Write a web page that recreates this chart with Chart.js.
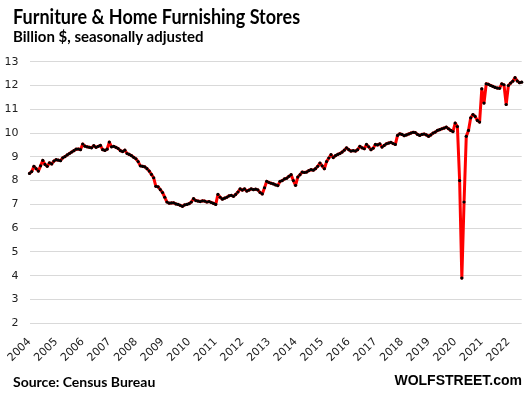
<!DOCTYPE html>
<html>
<head>
<meta charset="utf-8">
<script src="https://cdn.jsdelivr.net/npm/chart.js"></script>
<style>
  body { margin: 0; background: #fff; }
  #wrap { position: relative; width: 532px; height: 396px; overflow: hidden; }
  #chart { position: absolute; left: 0; top: 0; }
  .txt { position: absolute; font-weight: bold; color: #000; white-space: nowrap; transform-origin: 0 0; }
  #title { left: 13px; top: 4px; font: bold 20px Lato, sans-serif; transform: scaleX(0.9); }
  #subtitle { left: 13px; top: 27px; font: bold 15px Lato, sans-serif; }
  #source { left: 13px; top: 373px; font: bold 14px Lato, sans-serif; }
  #brand { right: 10px; top: 372px; font: bold 14px "Liberation Sans", Arial, sans-serif; }
</style>
</head>
<body>
<div id="wrap">
  <canvas id="chart" width="532" height="396"></canvas>
  <div class="txt" id="title">Furniture &amp; Home Furnishing Stores</div>
  <div class="txt" id="subtitle">Billion $, seasonally adjusted</div>
  <div class="txt" id="source">Source: Census Bureau</div>
  <div class="txt" id="brand">WOLFSTREET.com</div>
</div>
<script>
// monthly sales, billion $ (Jan..Dec)
const s2004 = [8.30, 8.38, 8.60, 8.50, 8.40, 8.62, 8.85, 8.68, 8.60, 8.75, 8.70, 8.82];
const s2005 = [8.88, 8.86, 8.84, 8.96, 9.01, 9.08, 9.14, 9.20, 9.26, 9.32, 9.33, 9.30];
const s2006 = [9.54, 9.45, 9.42, 9.40, 9.38, 9.47, 9.40, 9.44, 9.48, 9.30, 9.27, 9.32];
const s2007 = [9.62, 9.42, 9.44, 9.40, 9.35, 9.26, 9.22, 9.28, 9.14, 9.10, 9.05, 8.98];
const s2008 = [8.92, 8.80, 8.62, 8.60, 8.58, 8.50, 8.40, 8.26, 8.12, 7.76, 7.74, 7.62];
const s2009 = [7.50, 7.30, 7.10, 7.05, 7.06, 7.07, 7.02, 7.00, 6.96, 6.92, 6.98, 7.00];
const s2010 = [7.03, 7.10, 7.24, 7.16, 7.14, 7.12, 7.15, 7.14, 7.10, 7.12, 7.08, 7.04];
const s2011 = [7.00, 7.42, 7.30, 7.22, 7.26, 7.30, 7.36, 7.38, 7.34, 7.42, 7.52, 7.65];
const s2012 = [7.60, 7.65, 7.56, 7.60, 7.65, 7.62, 7.64, 7.61, 7.50, 7.44, 7.70, 7.97];
const s2013 = [7.92, 7.89, 7.86, 7.82, 7.79, 7.97, 8.00, 8.07, 8.10, 8.18, 8.25, 8.00];
const s2014 = [7.80, 8.15, 8.25, 8.36, 8.34, 8.36, 8.42, 8.46, 8.44, 8.50, 8.60, 8.74];
const s2015 = [8.62, 8.50, 8.80, 8.95, 9.09, 8.97, 9.05, 9.10, 9.14, 9.20, 9.28, 9.38];
const s2016 = [9.30, 9.24, 9.26, 9.24, 9.30, 9.44, 9.38, 9.34, 9.52, 9.42, 9.30, 9.36];
const s2017 = [9.52, 9.50, 9.55, 9.41, 9.48, 9.55, 9.58, 9.61, 9.56, 9.52, 9.90, 9.97];
const s2018 = [9.94, 9.89, 9.92, 9.96, 10.00, 10.03, 10.02, 9.94, 9.90, 9.94, 9.96, 9.92];
const s2019 = [9.86, 9.92, 10.00, 10.04, 10.11, 10.14, 10.18, 10.21, 10.25, 10.18, 10.11, 10.06];
const s2020 = [10.42, 10.27, 8.00, 3.90, 7.10, 9.86, 10.11, 10.64, 10.78, 10.70, 10.53, 10.46];
const s2021 = [11.86, 11.26, 12.07, 12.05, 12.00, 11.96, 11.92, 11.89, 11.88, 12.07, 12.03, 11.20];
const s2022 = [12.00, 12.10, 12.18, 12.33, 12.19, 12.12, 12.14];

const years = ["2004", "2005", "2006", "2007", "2008", "2009", "2010", "2011", "2012", "2013",
  "2014", "2015", "2016", "2017", "2018", "2019", "2020", "2021", "2022"];
const yearly = [s2004, s2005, s2006, s2007, s2008, s2009, s2010, s2011, s2012, s2013,
  s2014, s2015, s2016, s2017, s2018, s2019, s2020, s2021, s2022];

const months = [];
const sales = [];
yearly.forEach((arr, i) => {
  arr.forEach((v, m) => {
    months.push(years[i] + "-" + String(m + 1).padStart(2, "0"));
    sales.push(v);
  });
});

const tickFont = { family: "'DejaVu Sans', Tahoma, sans-serif", size: 11 };

new Chart(document.getElementById("chart"), {
  type: "line",
  data: {
    labels: months,
    datasets: [{
      data: sales,
      borderColor: "#ff0000",
      borderWidth: 3,
      borderJoinStyle: "round",
      borderCapStyle: "round",
      pointRadius: 1.6,
      pointBackgroundColor: "#000",
      pointBorderWidth: 0,
      tension: 0,
    }],
  },
  options: {
    responsive: false,
    animation: false,
    events: [],
    layout: { padding: { top: 61.7, right: 10.3, left: 0, bottom: 0 } },
    plugins: { legend: { display: false }, tooltip: { enabled: false } },
    scales: {
      x: {
        offset: false,
        grid: { display: false },
        border: { display: false },
        ticks: {
          autoSkip: false,
          minRotation: 45,
          maxRotation: 45,
          padding: 4,
          color: "#222",
          font: tickFont,
          callback: (v, i) => (i % 12 === 0 ? months[i].slice(0, 4) : null),
        },
        afterFit: (s) => { s.height = 72.7; },
      },
      y: {
        min: 2,
        max: 13,
        grid: { color: "#d9d9d9", drawTicks: false },
        border: { display: false },
        ticks: { stepSize: 1, padding: 11, color: "#222", font: tickFont },
        afterFit: (s) => { s.width = 29.5; },
      },
    },
  },
});
</script>
</body>
</html>
